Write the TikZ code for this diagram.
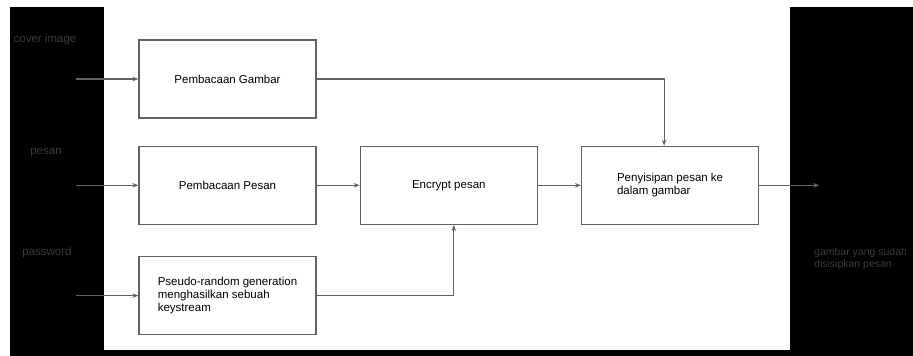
\documentclass[tikz,border=0pt]{standalone}
\usepackage{fontspec}
\setmainfont{Liberation Sans}
\usetikzlibrary{positioning, arrows.meta}

\definecolor{garis}{HTML}{626262}
\definecolor{redup}{HTML}{3A3A3A}

\tikzset{
  blok/.style={draw=garis, line width=1.3pt, fill=white, align=left,
    minimum width=177pt, minimum height=78pt, inner sep=2pt},
  alur/.style={draw=garis, line width=1.2pt, -{Stealth[length=6pt,width=4.5pt]}},
  ket/.style={text=redup, align=left}
}

\begin{document}
\begin{tikzpicture}[x=1pt, y=-1pt, font=\fontsize{11.5}{13}\selectfont]
\useasboundingbox (0,0) rectangle (913,356);
\fill[black] (10,7) rectangle (913,356);
\fill[white] (104,7) rectangle (790,350);

% blok proses
\node[blok] (gambar) at (227.5,79) {Pembacaan Gambar};
\node[blok, below=27pt of gambar] (pesan) {Pembacaan Pesan};
\node[blok, below=31pt of pesan] (prng) {Pseudo-random generation\\menghasilkan sebuah\\keystream};
\node[blok, right=43pt of pesan] (enkrip) {Encrypt pesan};
\node[blok, right=43pt of enkrip] (sisip) {Penyisipan pesan ke\\dalam gambar};

% masukan dan keluaran
\node[ket] (lblcover) at (45,40) {cover image};
\node[ket] (lblpesan) at (46,153) {pesan};
\node[ket] (lblpass) at (47,253) {password};
\node[ket, anchor=west, inner xsep=0pt, font=\fontsize{10.5}{11.5}\selectfont] (lblhasil) at (814,259) {gambar yang sudah\\disisipkan pesan};

\coordinate[left=62pt of gambar.west] (in1);
\coordinate[left=62pt of pesan.west] (in2);
\coordinate[left=62pt of prng.west] (in3);
\coordinate[right=60pt of sisip.east] (out);

\draw[alur] (in1) -- (gambar);
\draw[alur] (in2) -- (pesan);
\draw[alur] (in3) -- (prng);
\draw[alur] (pesan) -- (enkrip);
\draw[alur] (enkrip) -- (sisip);
\draw[alur] (gambar.east) -| ([xshift=-6pt]sisip.north);
\draw[alur] (prng.east) -| ([xshift=5pt]enkrip.south);
\draw[alur] (sisip) -- (out);
\end{tikzpicture}
\end{document}
